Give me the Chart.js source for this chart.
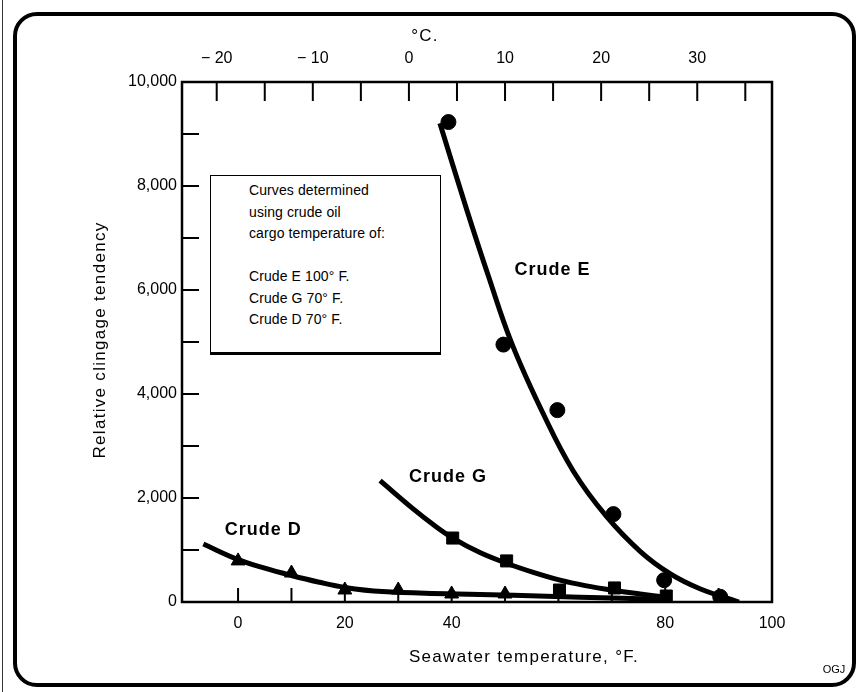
<!DOCTYPE html>
<html>
<head>
<meta charset="utf-8">
<script src="https://cdn.jsdelivr.net/npm/chart.js@4.4.1/dist/chart.umd.min.js"></script>
<style>
  body { margin: 0; background: #fff; }
  #wrap { position: relative; width: 857px; height: 692px; overflow: hidden; }
  #frame { position: absolute; left: 13px; top: 12px; width: 835px; height: 667px;
           border: 4.5px solid #000; border-radius: 24px; }
  #edge { position: absolute; left: 2px; top: 0; width: 1px; height: 692px; background: #333; }
  #chart { position: absolute; left: 0; top: 0; }
  #note { position: absolute; left: 210px; top: 175px; width: 231px; height: 180px;
          border: 1.5px solid #000; border-bottom-width: 3.5px; background: #fff;
          font: 14px "Liberation Sans", Arial, sans-serif; color: #000; box-sizing: border-box;
          padding: 4px 0 0 38px; line-height: 21.5px; letter-spacing: 0.1px; }
</style>
</head>
<body>
<div id="wrap">
  <div id="edge"></div>
  <div id="frame"></div>
  <canvas id="chart" width="857" height="692"></canvas>
  <div id="note">Curves determined<br>using crude oil<br>cargo temperature of:<br><br>Crude E 100° F.<br>Crude G 70° F.<br>Crude D 70° F.</div>
</div>
<script>
// axis ranges and ticks
const tempMin = -10.5;
const tempMax = 100;
const fahrenheitTicks = [0, 10, 20, 30, 40, 50, 60, 70, 80, 90, 100];
const fahrenheitLabels = [0, 20, 40, 80, 100];
const celsiusTicks = [-20, -15, -10, -5, 0, 5, 10, 15, 20, 25, 30, 35];
const celsiusLabels = [-20, -10, 0, 10, 20, 30];
const valueTicks = [1000, 2000, 3000, 4000, 5000, 6000, 7000, 8000, 9000];
const valueLabels = [0, 2000, 4000, 6000, 8000, 10000];

// Crude E (circles)
const crudeETemp = [39.4, 49.7, 59.8, 70.3, 79.8, 90.3];
const crudeEValue = [9230, 4950, 3690, 1690, 420, 100];
const crudeECurveTemp = [37.8, 42.8, 46.9, 51.3, 57.2, 62.8, 69.0, 75.3, 80.9, 86.5, 93.8];
const crudeECurveValue = [9205, 7555, 6265, 4965, 3610, 2515, 1645, 975, 545, 255, 0];

// Crude G (squares)
const crudeGTemp = [40.2, 50.3, 60.2, 70.5, 80.2];
const crudeGValue = [1230, 790, 230, 270, 115];
const crudeGCurveTemp = [26.6, 32.8, 36.6, 40.3, 45.3, 50, 55.3, 60.3, 65, 70.6, 75.3, 80.3];
const crudeGCurveValue = [2333, 1790, 1485, 1225, 950, 755, 570, 420, 315, 220, 155, 90];

// Crude D (triangles)
const crudeDTemp = [0, 10, 20, 30, 40, 50];
const crudeDValue = [790, 557, 231, 231, 154, 154];
const crudeDCurveTemp = [-6.5, 0, 5, 10, 15, 20, 27, 39, 51.6, 64, 80.2];
const crudeDCurveValue = [1115, 816, 650, 510, 385, 280, 200, 160, 128, 92, 48];

// curve names placed in the plot
const curveNames = ['Crude E', 'Crude G', 'Crude D'];
const curveNameTemp = [58.9, 39.3, 4.7];
const curveNameValue = [6375, 2400, 1380];

const font = '"Liberation Sans", Arial, sans-serif';

function pts(xs, ys) {
  return xs.map((x, i) => ({ x: x, y: ys[i] }));
}

function curve(xs, ys) {
  return {
    type: 'line', data: pts(xs, ys), borderColor: '#000', borderWidth: 5,
    pointRadius: 0, tension: 0.4, fill: false, borderCapStyle: 'butt'
  };
}

function marks(xs, ys, style, r) {
  return {
    type: 'scatter', data: pts(xs, ys), pointStyle: style, pointRadius: r,
    backgroundColor: '#000', borderColor: '#000', borderWidth: 1
  };
}

const framePlugin = {
  id: 'framePlugin',
  afterDraw(chart) {
    const ctx = chart.ctx;
    const a = chart.chartArea;
    const xs = chart.scales.x, cs = chart.scales.c, ys = chart.scales.y;
    ctx.save();
    ctx.strokeStyle = '#000';
    ctx.lineWidth = 2.5;
    ctx.strokeRect(a.left, a.top, a.right - a.left, a.bottom - a.top);
    ctx.lineWidth = 2;
    ctx.beginPath();
    fahrenheitTicks.forEach(v => {
      const x = xs.getPixelForValue(v);
      ctx.moveTo(x, a.bottom); ctx.lineTo(x, a.bottom - 14);
    });
    celsiusTicks.forEach(v => {
      const x = cs.getPixelForValue(v);
      ctx.moveTo(x, a.top); ctx.lineTo(x, a.top + 19);
    });
    valueTicks.forEach(v => {
      const y = ys.getPixelForValue(v);
      ctx.moveTo(a.left, y); ctx.lineTo(a.left + 17, y);
    });
    ctx.stroke();

    ctx.fillStyle = '#000';
    ctx.textAlign = 'center';
    ctx.textBaseline = 'middle';
    ctx.font = 'bold 18px ' + font;
    ctx.letterSpacing = '1px';
    curveNames.forEach((t, i) => {
      ctx.fillText(t, xs.getPixelForValue(curveNameTemp[i]), ys.getPixelForValue(curveNameValue[i]));
    });

    ctx.font = '17px ' + font;
    ctx.letterSpacing = '1.3px';
    ctx.fillText('°C.', 425, 36);
    ctx.fillText('Seawater temperature, °F.', 524, 657);
    ctx.save();
    ctx.translate(100, 340);
    ctx.rotate(-Math.PI / 2);
    ctx.fillText('Relative clingage tendency', 0, 0);
    ctx.restore();
    ctx.letterSpacing = '0px';
    ctx.font = '11px ' + font;
    ctx.fillText('OGJ', 834, 670);
    ctx.restore();
  }
};

new Chart(document.getElementById('chart'), {
  data: {
    datasets: [
      curve(crudeECurveTemp, crudeECurveValue),
      curve(crudeGCurveTemp, crudeGCurveValue),
      curve(crudeDCurveTemp, crudeDCurveValue),
      marks(crudeETemp, crudeEValue, 'circle', 7.5),
      marks(crudeGTemp, crudeGValue, 'rect', 8.5),
      marks(crudeDTemp, crudeDValue, 'triangle', 8)
    ]
  },
  options: {
    responsive: false,
    animation: false,
    devicePixelRatio: 1,
    layout: { padding: { left: 0, top: 0, right: 85, bottom: 0 } },
    plugins: { legend: { display: false }, tooltip: { enabled: false } },
    scales: {
      x: {
        type: 'linear', position: 'bottom', min: tempMin, max: tempMax,
        grid: { display: false, drawTicks: false }, border: { display: false },
        afterBuildTicks: s => { s.ticks = fahrenheitLabels.map(v => ({ value: v })); },
        afterFit: s => { s.height = 90; },
        ticks: { autoSkip: false, maxRotation: 0, padding: 12, color: '#000', font: { family: font, size: 16 } }
      },
      c: {
        type: 'linear', position: 'top', min: (tempMin - 32) / 1.8, max: (tempMax - 32) / 1.8,
        grid: { display: false, drawTicks: false }, border: { display: false },
        afterBuildTicks: s => { s.ticks = celsiusLabels.map(v => ({ value: v })); },
        afterFit: s => { s.height = 82; },
        ticks: {
          autoSkip: false, maxRotation: 0, padding: 14, color: '#000', font: { family: font, size: 16 },
          callback: v => v < 0 ? '\u2212 ' + Math.abs(v) : String(v)
        }
      },
      y: {
        type: 'linear', min: 0, max: 10000,
        grid: { display: false, drawTicks: false }, border: { display: false },
        afterBuildTicks: s => { s.ticks = valueLabels.map(v => ({ value: v })); },
        afterFit: s => { s.width = 182; },
        ticks: {
          autoSkip: false, padding: 5, color: '#000', font: { family: font, size: 16 },
          callback: v => v.toLocaleString('en-US')
        }
      }
    }
  },
  plugins: [framePlugin]
});
</script>
</body>
</html>
